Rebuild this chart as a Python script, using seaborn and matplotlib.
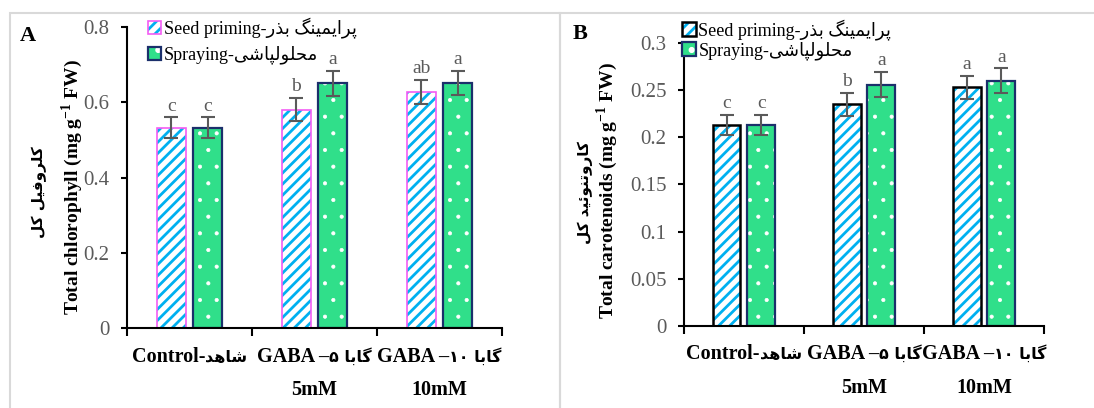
import numpy as np
import pandas as pd
import seaborn as sns
import matplotlib.pyplot as plt
from matplotlib.patches import Patch, Rectangle
from matplotlib.legend_handler import HandlerTuple
from matplotlib.ticker import FuncFormatter
from matplotlib.offsetbox import TextArea, HPacker, VPacker, AnnotationBbox

# ---- data ----
treatments = ['control', 'gaba5', 'gaba10']
methods = ['seed', 'spray']

chl_seed = [0.532, 0.580, 0.627]
chl_spray = [0.532, 0.650, 0.650]
chl_seed_err = [0.027, 0.030, 0.032]
chl_spray_err = [0.027, 0.033, 0.032]
chl_seed_letters = ['c', 'b', 'ab']
chl_spray_letters = ['c', 'a', 'a']

car_seed = [0.213, 0.235, 0.253]
car_spray = [0.213, 0.256, 0.260]
car_seed_err = [0.011, 0.012, 0.0125]
car_spray_err = [0.011, 0.013, 0.013]
car_seed_letters = ['c', 'b', 'a']
car_spray_letters = ['c', 'a', 'a']

# tick label parts: latin, persian ('|' splits digits from the word), second line
tick_latin = ['Control-', 'GABA \u2013', 'GABA \u2013']
tick_persian = ['شاهد', '\u06F5 |گابا', '\u06F1\u06F0 |گابا']
tick_second = ['', '5mM', '10mM']

# ---- minimal persian shaping (matplotlib has no RTL/joining) ----
FORMS = {
    'ا': ('\uFE8D', '\uFE8E'),
    'ب': ('\uFE8F', '\uFE90', '\uFE91', '\uFE92'),
    'پ': ('\uFB56', '\uFB57', '\uFB58', '\uFB59'),
    'ت': ('\uFE95', '\uFE96', '\uFE97', '\uFE98'),
    'ح': ('\uFEA1', '\uFEA2', '\uFEA3', '\uFEA4'),
    'د': ('\uFEA9', '\uFEAA'),
    'ذ': ('\uFEAB', '\uFEAC'),
    'ر': ('\uFEAD', '\uFEAE'),
    'ش': ('\uFEB5', '\uFEB6', '\uFEB7', '\uFEB8'),
    'ف': ('\uFED1', '\uFED2', '\uFED3', '\uFED4'),
    'ک': ('\uFB8E', '\uFB8F', '\uFB90', '\uFB91'),
    'ك': ('\uFB8E', '\uFB8F', '\uFB90', '\uFB91'),
    'گ': ('\uFB92', '\uFB93', '\uFB94', '\uFB95'),
    'ل': ('\uFEDD', '\uFEDE', '\uFEDF', '\uFEE0'),
    'م': ('\uFEE1', '\uFEE2', '\uFEE3', '\uFEE4'),
    'ن': ('\uFEE5', '\uFEE6', '\uFEE7', '\uFEE8'),
    'ه': ('\uFEE9', '\uFEEA', '\uFEEB', '\uFEEC'),
    'و': ('\uFEED', '\uFEEE'),
    'ی': ('\uFBFC', '\uFBFD', '\uFBFE', '\uFBFF'),
    'ي': ('\uFBFC', '\uFBFD', '\uFBFE', '\uFBFF'),
    'ئ': ('\uFE89', '\uFE8A', '\uFE8B', '\uFE8C'),
}


def fa(s):
    out = []
    for i, ch in enumerate(s):
        if ch not in FORMS:
            out.append(ch)
            continue
        prev = s[i - 1] if i > 0 else ''
        nxt = s[i + 1] if i + 1 < len(s) else ''
        jp = prev in FORMS and len(FORMS[prev]) == 4
        jn = nxt in FORMS and len(FORMS[ch]) == 4
        f = FORMS[ch]
        if jp and jn:
            out.append(f[3])
        elif jp:
            out.append(f[1])
        elif jn:
            out.append(f[2])
        else:
            out.append(f[0])
    return ''.join(out)[::-1]


def fa_mixed(s):
    if '|' in s:
        head, word = s.split('|')
        return head + fa(word)
    return fa(s)


seed_label = 'Seed priming-' + fa('پرایمینگ بذر')
spray_label = 'Spraying-' + fa('محلولپاشی')

# ---- style ----
blue = '#00B0F0'
pink = '#F45CF4'
green = '#30DF8A'
navy = '#1B2F6B'
grey = '#5a5a5a'

plt.rcParams['font.family'] = ['Liberation Serif', 'DejaVu Sans']
plt.rcParams['mathtext.fontset'] = 'custom'
plt.rcParams['mathtext.rm'] = 'Liberation Serif:bold'
plt.rcParams['hatch.linewidth'] = 2.0

fig = plt.figure(figsize=(10.94, 4.08), dpi=100)

# panel frames
fig.patches.append(Rectangle((10 / 1094, -0.1), 550 / 1094, 1.1 - 13 / 408, transform=fig.transFigure,
                             fill=False, ec='#d9d9d9', lw=1.5))
fig.patches.append(Rectangle((560 / 1094, -0.1), 0.6, 1.1 - 13 / 408, transform=fig.transFigure,
                             fill=False, ec='#d9d9d9', lw=1.5))

axA = fig.add_axes([0.1161, 0.1949, 0.3428, 0.7401])
axB = fig.add_axes([0.6252, 0.2010, 0.3291, 0.6936])


def panel(ax, seed, spray, seed_err, spray_err, seed_let, spray_let, seed_edge, seed_lw,
          yticks, ylab_en, ylab_fa, en_x, en_y, fa_x, fa_y, leg_anchor, leg_space):
    df = pd.DataFrame({
        'treatment': treatments * 2,
        'method': ['seed'] * 3 + ['spray'] * 3,
        'value': seed + spray,
    })
    sns.barplot(data=df, x='treatment', y='value', hue='method', order=treatments,
                hue_order=methods, palette={'seed': 'white', 'spray': green},
                saturation=1, errorbar=None, width=0.58, gap=0.2, legend=False, ax=ax)

    errs = [seed_err, spray_err]
    lets = [seed_let, spray_let]
    bars = list(ax.containers)
    for k, cont in enumerate(bars):
        for p, e, t in zip(cont.patches, errs[k], lets[k]):
            if k == 0:
                p.set_hatch('///')
                p.set_edgecolor(blue)
                ec, lw = seed_edge, seed_lw
            else:
                p.set_hatch('.')
                p.set_edgecolor('white')
                if hasattr(p, 'set_hatch_linewidth'):
                    p.set_hatch_linewidth(0.5)
                ec, lw = navy, 1.6
            p.set_linewidth(0)
            ax.add_patch(Rectangle((p.get_x(), p.get_y()), p.get_width(), p.get_height(),
                                   fill=False, ec=ec, lw=lw, zorder=p.get_zorder() + 0.1))
            xc = p.get_x() + p.get_width() / 2
            top = p.get_height()
            ax.errorbar(xc, top, yerr=e, fmt='none', ecolor=grey, elinewidth=1.5,
                        capsize=4.7, capthick=1.5, zorder=5)
            ax.annotate(t, (xc, top + e), xytext=(0, 2), textcoords='offset points',
                        ha='center', va='bottom', fontsize=14, color=grey)

    ax.set_xlim(-0.5, 2.5)
    ax.set_ylim(yticks[0], yticks[-1])
    ax.set_yticks(yticks)
    ax.yaxis.set_major_formatter(FuncFormatter(lambda v, _: '%g' % round(v, 3)))
    ax.set_xticks([0, 1, 2])
    ax.set_xticklabels([])
    ax.set_xticks([-0.5, 0.5, 1.5, 2.5], minor=True)
    ax.tick_params(axis='x', which='major', length=0)
    ax.tick_params(axis='x', which='minor', length=6, width=1.5, direction='out')
    ax.tick_params(axis='y', length=4.5, width=1.5, direction='out', labelsize=15,
                   labelcolor=grey, pad=8)
    for s in ['top', 'right']:
        ax.spines[s].set_visible(False)
    for s in ['left', 'bottom']:
        ax.spines[s].set_linewidth(1.5)

    # category labels: latin (Times bold) + persian (smaller) side by side
    for i in range(len(treatments)):
        lat = TextArea(tick_latin[i], textprops=dict(fontsize=14.5, fontweight='bold',
                                                     family='Liberation Serif'))
        per = TextArea(fa_mixed(tick_persian[i]), textprops=dict(fontsize=11.5, fontweight='bold',
                                                                 family='DejaVu Sans'))
        row = HPacker(children=[lat, per], align='baseline', pad=0, sep=0)
        box = row
        if tick_second[i]:
            sec = TextArea(tick_second[i], textprops=dict(fontsize=14.5, fontweight='bold',
                                                          family='Liberation Serif'))
            box = VPacker(children=[row, sec], align='center', pad=0, sep=10)
        ab = AnnotationBbox(box, (i, 0), xycoords=('data', 'axes fraction'),
                            xybox=(0, -13), boxcoords='offset points', box_alignment=(0.5, 1),
                            frameon=False, pad=0, annotation_clip=False)
        ax.add_artist(ab)

    ax.set_xlabel('')
    ax.set_ylabel(ylab_en, fontsize=14, fontweight='bold', va='center')
    ax.yaxis.set_label_coords(en_x, en_y)
    ax.text(fa_x, fa_y, fa(ylab_fa), transform=ax.transAxes, rotation=90, ha='center',
            va='center', fontsize=11, fontweight='bold', family='DejaVu Sans')

    h_seed = (Patch(fc='white', ec=blue, hatch='///', lw=0),
              Patch(fill=False, ec=seed_edge, lw=seed_lw))
    h_spray = (Patch(fc=green, ec='white', hatch='.', lw=0),
               Patch(fill=False, ec=navy, lw=1.6))
    ax.legend([h_seed, h_spray], [seed_label, spray_label],
              handler_map={tuple: HandlerTuple(ndivide=1, pad=0)},
              loc='upper left', bbox_to_anchor=leg_anchor, frameon=False, fontsize=13,
              handlelength=0.75, handleheight=0.75, handletextpad=0.15,
              labelspacing=leg_space, borderpad=0, borderaxespad=0)


panel(axA, chl_seed, chl_spray, chl_seed_err, chl_spray_err, chl_seed_letters,
      chl_spray_letters, pink, 1.2, [0, 0.2, 0.4, 0.6, 0.8],
      'Total chlorophyll (mg g$^{-1}$ FW)', 'کلروفیل کل', -0.145, 0.47, -0.235, 0.45,
      (0.055, 1.03), 0.4)
panel(axB, car_seed, car_spray, car_seed_err, car_spray_err, car_seed_letters,
      car_spray_letters, 'black', 1.8, [0, 0.05, 0.1, 0.15, 0.2, 0.25, 0.3],
      'Total carotenoids (mg g$^{-1}$ FW)', 'کاروتنوئید کل', -0.214, 0.48, -0.275, 0.47,
      (-0.005, 1.085), 0.08)

fig.text(28 / 1094, 1 - 36 / 408, 'A', fontsize=16, fontweight='bold', ha='center', va='center')
fig.text(580 / 1094, 1 - 34 / 408, 'B', fontsize=16, fontweight='bold', ha='center', va='center')

fig.savefig('out.png', dpi=100)
